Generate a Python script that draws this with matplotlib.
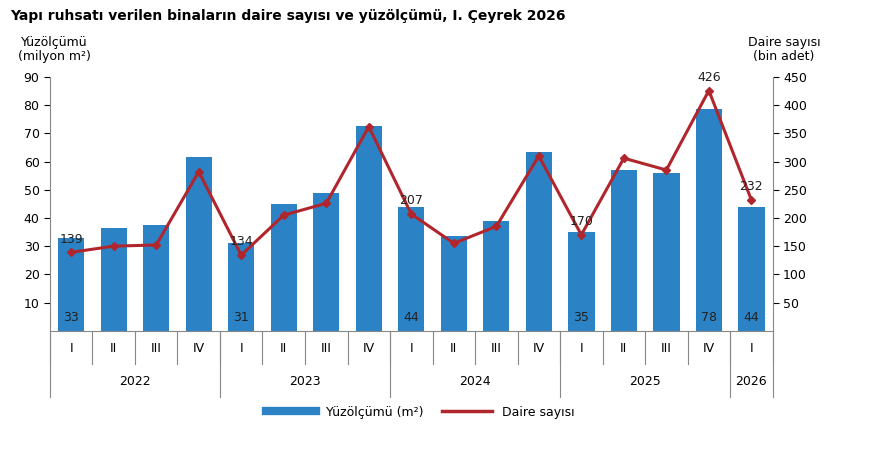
import numpy as np
import matplotlib.pyplot as plt
from matplotlib.lines import Line2D

quarters = ['I', 'II', 'III', 'IV'] * 4 + ['I']
years = ['2022', '2023', '2024', '2025', '2026']
area = [33, 36.5, 37.5, 61.5, 31, 45, 49, 72.5, 44, 33.5, 39, 63.5, 35, 57, 56, 78.5, 44]
area_labels = {0: '33', 4: '31', 8: '44', 12: '35', 15: '78', 16: '44'}
dwellings = [139, 150, 152, 282, 134, 205, 226, 362, 207, 155, 185, 310, 170, 306, 285, 426, 232]
dw_labels = {0: '139', 4: '134', 8: '207', 12: '170', 15: '426', 16: '232'}

bar_c = '#2B83C6'
line_c = '#B0262C'

fig = plt.figure(figsize=(8.76, 4.53), dpi=100)
ax = fig.add_axes([0.057, 0.27, 0.825, 0.56])
x = np.arange(len(area))
ax.bar(x, area, width=0.62, color=bar_c)
ax.set_xlim(-0.5, len(area) - 0.5)
ax.set_ylim(0, 90)
ax.set_yticks(range(10, 91, 10))
ax.tick_params(axis='y', labelsize=9, length=4)
ax.set_xticks([])
for s in ['top', 'right']:
    ax.spines[s].set_visible(False)
ax.spines['left'].set_color('#888888')
ax.spines['bottom'].set_color('#888888')
for i, t in area_labels.items():
    ax.text(i, 2.5, t, ha='center', va='bottom', fontsize=9, color='#222222')

ax2 = ax.twinx()
ax2.plot(x, dwellings, color=line_c, lw=2.2, marker='D', ms=4)
ax2.set_ylim(0, 450)
ax2.set_yticks(range(50, 451, 50))
ax2.tick_params(axis='y', labelsize=9, length=4)
for s in ['top', 'left', 'bottom']:
    ax2.spines[s].set_visible(False)
ax2.spines['right'].set_color('#888888')
for i, t in dw_labels.items():
    ax2.text(i, dwellings[i] + 12, t, ha='center', va='bottom', fontsize=9, color='#222222')

# two-level category axis
tr = ax.get_xaxis_transform()
for i, q in enumerate(quarters):
    ax.text(i, -0.07, q, transform=tr, ha='center', va='center', fontsize=9)
for b in np.arange(-0.5, len(area), 1):
    ax.plot([b, b], [0, -0.13], transform=tr, color='#888888', lw=0.8, clip_on=False)
for k, yr in enumerate(years):
    start = 4 * k - 0.5
    end = min(4 * k + 3.5, len(area) - 0.5)
    ax.text((start + end) / 2, -0.2, yr, transform=tr, ha='center', va='center', fontsize=9)
    ax.plot([start, start], [0, -0.26], transform=tr, color='#888888', lw=0.8, clip_on=False)
ax.plot([len(area) - 0.5] * 2, [0, -0.26], transform=tr, color='#888888', lw=0.8, clip_on=False)

fig.text(0.012, 0.965, 'Yapı ruhsatı verilen binaların daire sayısı ve yüzölçümü, I. Çeyrek 2026',
         fontsize=10, fontweight='bold', va='center')
fig.text(0.062, 0.89, 'Yüzölçümü\n(milyon m²)', fontsize=9, ha='center', va='center', linespacing=1.1)
fig.text(0.895, 0.89, 'Daire sayısı\n(bin adet)', fontsize=9, ha='center', va='center', linespacing=1.1)

handles = [Line2D([], [], color=bar_c, lw=6), Line2D([], [], color=line_c, lw=2.5)]
fig.legend(handles, ['Yüzölçümü (m²)', 'Daire sayısı'], loc='center', bbox_to_anchor=(0.48, 0.09),
           ncol=2, frameon=False, fontsize=9, handlelength=4, columnspacing=1.5)

fig.savefig('out.png', dpi=100)
